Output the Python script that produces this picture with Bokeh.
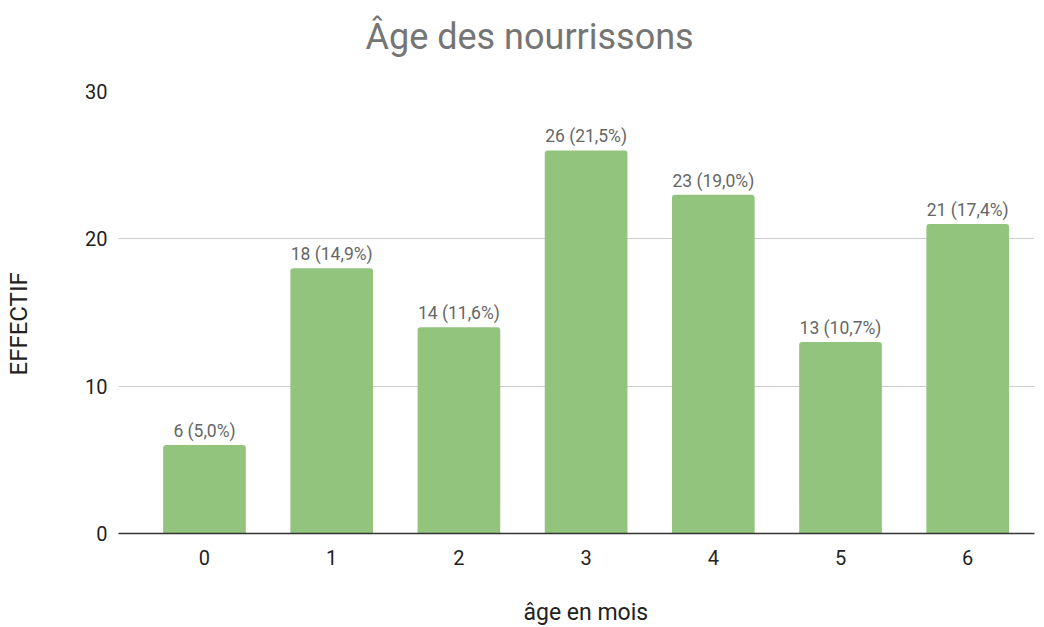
from bokeh.plotting import figure
from bokeh.models import ColumnDataSource, Range1d, FixedTicker, Title
from bokeh.core.properties import value
from bokeh.embed import file_html
from bokeh.resources import INLINE

ages = ["0", "1", "2", "3", "4", "5", "6"]
counts = [6, 18, 14, 26, 23, 13, 21]
percents = ["5,0%", "14,9%", "11,6%", "21,5%", "19,0%", "10,7%", "17,4%"]
y_ticks = [0, 10, 20, 30]
title_text = "Âge des nourrissons"
x_title = "âge en mois"
y_title = "EFFECTIF"

FONT = "Roboto"
pos = list(range(len(ages)))
labels = [f"{c} ({p})" for c, p in zip(counts, percents)]
src = ColumnDataSource(dict(x=pos, top=counts, label=labels))

p = figure(frame_width=916, frame_height=442, output_backend="svg", toolbar_location=None,
           x_range=Range1d(-0.676, 6.525), y_range=Range1d(0, 30),
           min_border_left=110, min_border_right=9, min_border_top=91, min_border_bottom=93)
p.outline_line_color = None
p.background_fill_color = "white"
p.border_fill_color = "white"

p.vbar(x="x", top="top", width=0.65, source=src, fill_color="#93c47d",
       line_color=None, border_radius=[3, 3, 0, 0])
p.text(x="x", y="top", text="label", source=src, text_align="center",
       text_baseline="bottom", y_offset=-4, text_font=value(FONT),
       text_font_size="17.5px", text_color="#666666")

xa = p.xaxis[0]
xa.ticker = FixedTicker(ticks=pos)
xa.major_label_overrides = {i: a for i, a in enumerate(ages)}
xa.axis_line_color = "#333333"
xa.axis_line_width = 1.5
xa.major_tick_line_color = None
xa.minor_tick_line_color = None
xa.major_label_standoff = 10
xa.major_label_text_font = FONT
xa.major_label_text_font_size = "20px"
xa.major_label_text_color = "#222222"

ya = p.yaxis[0]
ya.ticker = FixedTicker(ticks=y_ticks)
ya.axis_line_color = None
ya.major_tick_line_color = None
ya.minor_tick_line_color = None
ya.major_label_standoff = 5
ya.major_label_text_font = FONT
ya.major_label_text_font_size = "20px"
ya.major_label_text_color = "#222222"

# spacers (empty titles) between the axes and the chart texts
p.add_layout(Title(text=" ", text_font_size="10px", standoff=17), "above")
p.add_layout(Title(text=" ", text_font_size="10px", standoff=15), "below")
p.add_layout(Title(text=" ", text_font_size="10px", standoff=35), "left")

p.title.text = title_text
p.title.align = "left"
p.title.offset = 247
p.title.standoff = 8
p.title.text_font = FONT
p.title.text_font_size = "36px"
p.title.text_font_style = "normal"
p.title.text_color = "#757575"

p.add_layout(Title(text=x_title, align="left", offset=405, standoff=2,
                   text_font=FONT, text_font_size="23px", text_font_style="normal",
                   text_color="#222222"), "below")
p.add_layout(Title(text=y_title, align="left", offset=158, standoff=4,
                   text_font=FONT, text_font_size="24px", text_font_style="normal",
                   text_color="#222222"), "left")

p.xgrid.grid_line_color = None
p.ygrid.grid_line_color = "#cccccc"
p.ygrid.ticker = FixedTicker(ticks=y_ticks[1:])

open("out.html", "w").write(file_html(p, INLINE))
